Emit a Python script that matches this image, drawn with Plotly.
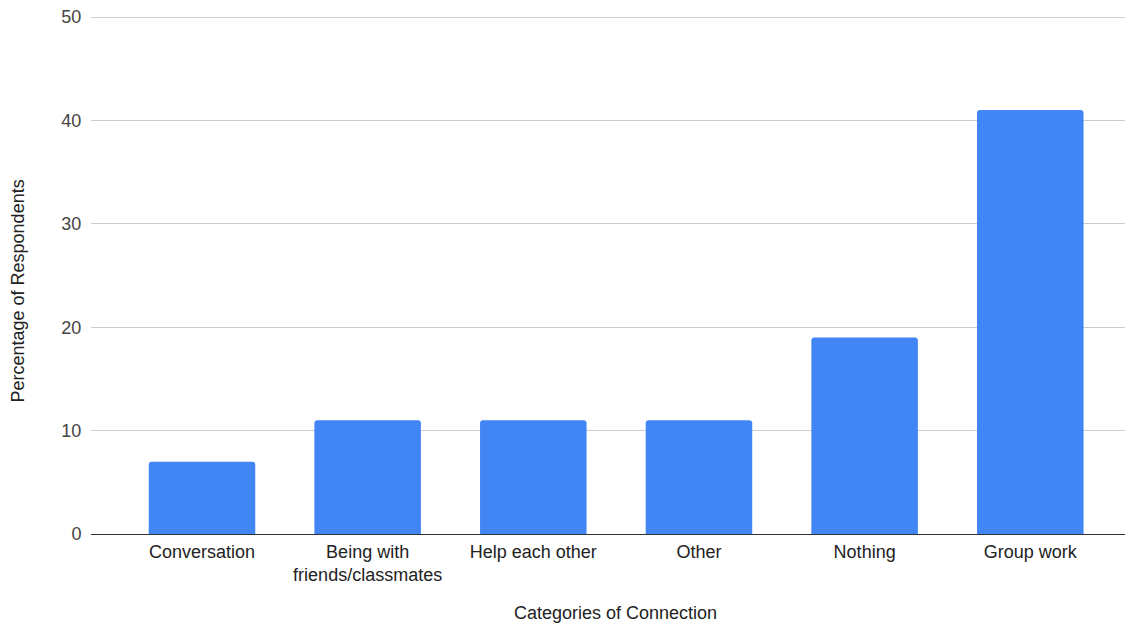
import plotly.graph_objects as go

categories = ["Conversation", "Being with<br>friends/classmates", "Help each other",
              "Other", "Nothing", "Group work"]
values = [7, 11, 11, 11, 19, 41]
y_ticks = [0, 10, 20, 30, 40, 50]

FONT = "Arial, Liberation Sans, sans-serif"
FS = 18
PLOT_W = 1125 - 83
PLOT_H = 618 - 7 - 92

fig = go.Figure(go.Bar(
    x=list(range(len(categories))),
    y=values,
    marker=dict(color="#4285F4", line=dict(width=0), cornerradius=3),
    width=0.643,
))

fig.update_layout(
    width=1125, height=618,
    margin=dict(l=83, r=0, t=7, b=92),
    paper_bgcolor="white", plot_bgcolor="white",
    showlegend=False,
    font=dict(family=FONT, size=FS, color="#222222"),
    xaxis=dict(
        tickmode="array", tickvals=list(range(len(categories))), ticktext=categories,
        range=[-0.67, 5.62],
        showgrid=False, zeroline=False,
        showline=True, linecolor="#333333", linewidth=1.3,
        ticks="outside", ticklen=1, tickcolor="rgba(0,0,0,0)",
        tickfont=dict(family=FONT, size=FS, color="#222222"),
        automargin=False, fixedrange=True,
    ),
    yaxis=dict(
        range=[0, 50.2], tickvals=y_ticks,
        showgrid=True, gridcolor="#cccccc", gridwidth=1,
        zeroline=False, showline=False,
        ticks="outside", ticklen=5, tickcolor="rgba(0,0,0,0)",
        tickfont=dict(family=FONT, size=FS, color="#444444"),
        ticklabeloverflow="allow",
        automargin=False, fixedrange=True,
    ),
    annotations=[
        dict(text="Categories of Connection", xref="paper", yref="paper",
             x=0.5 + 3 / PLOT_W, y=-79 / PLOT_H, xanchor="center", yanchor="middle",
             showarrow=False, font=dict(family=FONT, size=FS, color="#222222")),
        dict(text="Percentage of Respondents", xref="paper", yref="paper",
             x=-74 / PLOT_W, y=0.5 - 17 / PLOT_H, xanchor="center", yanchor="middle",
             textangle=-90,
             showarrow=False, font=dict(family=FONT, size=FS, color="#222222")),
    ],
)

fig.write_html("out.html")
